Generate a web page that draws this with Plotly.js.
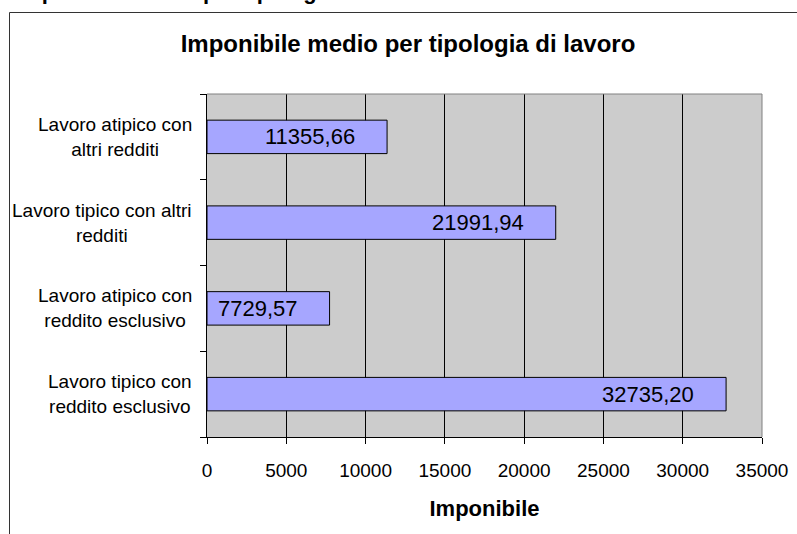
<!DOCTYPE html>
<html>
<head>
<meta charset="utf-8">
<script src="https://cdn.plot.ly/plotly-3.0.1.min.js"></script>
<style>html,body{margin:0;padding:0;background:#fff;}#chart{width:797px;height:534px;}</style>
</head>
<body>
<div id="chart"></div>
<script>
// Categories listed bottom-to-top (as drawn by the original chart)
var categories = [
  "Lavoro tipico con reddito esclusivo",
  "Lavoro atipico con reddito esclusivo",
  "Lavoro tipico con altri redditi",
  "Lavoro atipico con altri redditi"
];
var categoryLabels = [
  "Lavoro tipico con<br>reddito esclusivo",
  "Lavoro atipico con<br>reddito esclusivo",
  "Lavoro tipico con altri<br>redditi",
  "Lavoro atipico con<br>altri redditi"
];
var imponibile = [32735.20, 7729.57, 21991.94, 11355.66];
var xTicks = [0, 5000, 10000, 15000, 20000, 25000, 30000, 35000];
var chartTitle = "Imponibile medio per tipologia di lavoro";
var xTitle = "Imponibile";
var pageHeading = "Imponibile medio per tipologia di lavoro";

var FONT = "Liberation Sans, Arial, Helvetica, sans-serif";

function fmt(v) { return v.toFixed(2).replace(".", ","); }

// plot area geometry (pixels)
var W = 797, H = 534;
var L = 207, R = 762, T = 94, B = 437;
function px2x(px) { return (px - L) / (R - L); }
function py2y(py) { return (B - py) / (B - T); }

var trace = {
  type: "bar",
  orientation: "h",
  y: categories,
  x: imponibile,
  marker: { color: "#a6a6ff", line: { color: "#000000", width: 1 } },
  hoverinfo: "skip"
};

var annotations = [];
for (var i = 0; i < categories.length; i++) {
  annotations.push({
    xref: "x", yref: "y", x: imponibile[i], y: categories[i],
    text: fmt(imponibile[i]), showarrow: false,
    xanchor: "right", yanchor: "middle", xshift: -30,
    font: { family: FONT, size: 22, color: "#000" }
  });
  annotations.push({
    xref: "paper", yref: "y", x: 0, y: categories[i],
    text: categoryLabels[i], showarrow: false, align: "center",
    xanchor: "right", yanchor: "middle", xshift: -13,
    font: { family: FONT, size: 19, color: "#000" }
  });
}
annotations.push({
  xref: "paper", yref: "paper", x: px2x(14), y: py2y(6),
  text: "<b>" + pageHeading + "</b>", showarrow: false,
  xanchor: "left", yanchor: "bottom",
  font: { family: FONT, size: 22, color: "#000" }
});

var shapes = [
  // outer chart frame (extends past the picture on the right and bottom)
  { type: "rect", xref: "paper", yref: "paper",
    x0: px2x(9.5), x1: px2x(W + 20), y0: py2y(H + 20), y1: py2y(12.5),
    line: { color: "#333333", width: 1 }, fillcolor: "rgba(0,0,0,0)", layer: "above" },
  // plot area border: top and right edges in grey
  { type: "path", xref: "paper", yref: "paper",
    path: "M 0 1 L 1 1 L 1 0",
    line: { color: "#808080", width: 1 }, layer: "above" }
];

var layout = {
  width: W, height: H,
  margin: { l: L, r: W - R, t: T, b: H - B, pad: 0 },
  paper_bgcolor: "#ffffff",
  plot_bgcolor: "#cccccc",
  showlegend: false,
  bargap: 0.61,
  title: {
    text: "<b>" + chartTitle + "</b>",
    font: { family: FONT, size: 24, color: "#000" },
    xref: "paper", x: px2x(408), xanchor: "center",
    yref: "container", y: 1 - 44 / H, yanchor: "middle"
  },
  xaxis: {
    range: [0, 35000],
    tickmode: "array", tickvals: xTicks, ticktext: xTicks.map(String),
    showgrid: true, gridcolor: "#000000", gridwidth: 1,
    zeroline: false,
    showline: true, linecolor: "#000000", linewidth: 1,
    ticks: "outside", ticklen: 6, tickcolor: "#000000", tickwidth: 1,
    ticklabelstandoff: 10,
    tickfont: { family: FONT, size: 19, color: "#000" },
    title: { text: "<b>" + xTitle + "</b>", standoff: 20,
             font: { family: FONT, size: 22, color: "#000" } },
    fixedrange: true
  },
  yaxis: {
    type: "category",
    categoryorder: "array", categoryarray: categories,
    range: [-0.5, 3.5],
    showgrid: false, zeroline: false,
    showline: true, linecolor: "#000000", linewidth: 1,
    ticks: "outside", ticklen: 6, tickcolor: "#000000", tickwidth: 1,
    tickson: "boundaries",
    showticklabels: false,
    fixedrange: true
  },
  annotations: annotations,
  shapes: shapes
};

Plotly.newPlot("chart", [trace], layout, { displayModeBar: false, staticPlot: true });
</script>
</body>
</html>
